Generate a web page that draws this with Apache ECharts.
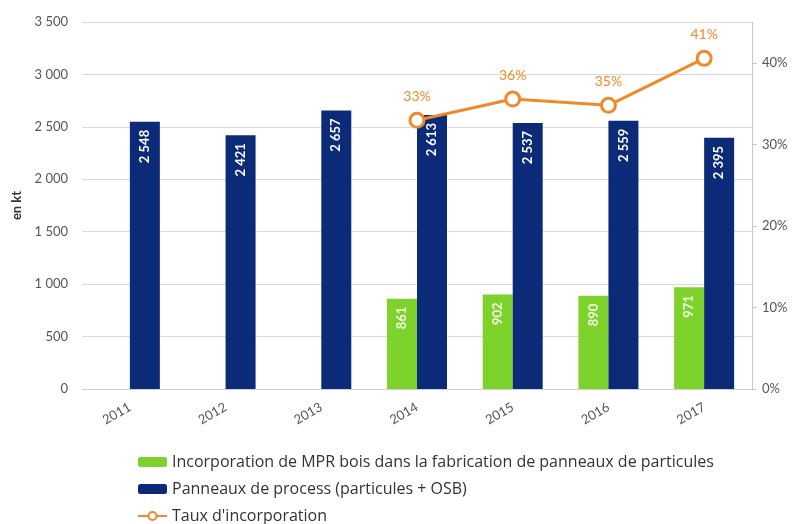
<!DOCTYPE html>
<html>
<head>
<meta charset="utf-8">
<script src="https://cdn.jsdelivr.net/npm/echarts@6/dist/echarts.min.js"></script>
<style>
  html, body { margin: 0; padding: 0; background: #fff; }
  #chart { width: 797px; height: 524px; }
</style>
</head>
<body>
<div id="chart"></div>
<script>
// Years on the category axis
var years = ['2011', '2012', '2013', '2014', '2015', '2016', '2017'];
// Recycled wood (MPR) incorporated in particle board production, kt
var mprBois = [null, null, null, 861, 902, 890, 971];
// Process panels (particle board + OSB), kt
var panneaux = [2548, 2421, 2657, 2613, 2537, 2559, 2395];
// Incorporation rate, % (MPR / process panels)
var taux = [null, null, null, 32.95, 35.55, 34.78, 40.54];
// Left axis tick range (kt) and right axis range (%)
var ktMax = 3500, ktStep = 500;
var pctMax = 45, pctStep = 10;

var FONT = 'Lato, "Open Sans", sans-serif';
var LEGEND_FONT = '"Open Sans", Lato, sans-serif';
var GREEN = '#7dd22b', NAVY = '#0b2a78', ORANGE = '#ef8a2a';

function thousands(v) {
  return String(v).replace(/\B(?=(\d{3})+(?!\d))/g, ' ');
}

var chart = echarts.init(document.getElementById('chart'));
chart.setOption({
  animation: false,
  textStyle: { fontFamily: FONT },
  grid: { left: 82, right: 45, top: 22, bottom: 135 },
  legend: {
    orient: 'vertical',
    left: 137, top: 454, padding: 0,
    itemWidth: 29, itemHeight: 10, itemGap: 11,
    textStyle: { fontFamily: LEGEND_FONT, fontSize: 16, lineHeight: 16, color: '#333' },
    data: [
      { name: 'Incorporation de MPR bois dans la fabrication de panneaux de particules' },
      { name: 'Panneaux de process (particules + OSB)' },
      { name: "Taux d'incorporation" }
    ]
  },
  xAxis: {
    type: 'category',
    data: years,
    axisLine: { lineStyle: { color: '#d0d0d0' } },
    axisTick: { show: false },
    axisLabel: { rotate: 30, fontSize: 13, color: '#555', margin: 17 }
  },
  yAxis: [
    {
      type: 'value', min: 0, max: ktMax, interval: ktStep,
      name: 'en kt', nameLocation: 'middle', nameGap: 58, nameRotate: 90,
      nameTextStyle: { fontSize: 13, fontWeight: 'bold', color: '#333' },
      axisLine: { show: false }, axisTick: { show: false },
      axisLabel: { fontSize: 13, color: '#555', margin: 14, formatter: thousands },
      splitLine: { lineStyle: { color: '#d9d9d9' } }
    },
    {
      type: 'value', min: 0, max: pctMax, interval: pctStep,
      position: 'right',
      axisLine: { show: true, lineStyle: { color: '#c8c8c8' } },
      axisTick: { show: true, inside: false, length: 5, lineStyle: { color: '#c8c8c8' } },
      axisLabel: {
        fontSize: 13, color: '#555', margin: 10, showMaxLabel: false,
        formatter: function (v) { return v > 40 ? '' : v + '%'; }
      },
      splitLine: { show: false }
    }
  ],
  series: [
    {
      name: 'Incorporation de MPR bois dans la fabrication de panneaux de particules',
      type: 'bar', data: mprBois, barWidth: 30, barGap: '0%',
      itemStyle: { color: GREEN },
      label: {
        show: true, position: 'insideTop', rotate: 90, align: 'right',
        verticalAlign: 'middle', distance: 8,
        color: '#f4ffe8', fontSize: 13, fontWeight: 'bold'
      }
    },
    {
      name: 'Panneaux de process (particules + OSB)',
      type: 'bar', data: panneaux, barWidth: 30, barGap: '0%',
      itemStyle: { color: NAVY },
      label: {
        show: true, position: 'insideTop', rotate: 90, align: 'right',
        verticalAlign: 'middle', distance: 8,
        color: '#ffffff', fontSize: 13, fontWeight: 'bold',
        formatter: function (p) { return thousands(p.value); }
      }
    },
    {
      name: "Taux d'incorporation",
      type: 'line', yAxisIndex: 1, data: taux,
      symbol: 'circle', symbolSize: 14,
      itemStyle: { color: '#fff', borderColor: ORANGE, borderWidth: 3 },
      lineStyle: { color: ORANGE, width: 3 },
      label: {
        show: true, position: 'top', distance: 8,
        color: ORANGE, fontSize: 14,
        formatter: function (p) { return Math.round(p.value) + '%'; }
      }
    }
  ]
});
</script>
</body>
</html>
